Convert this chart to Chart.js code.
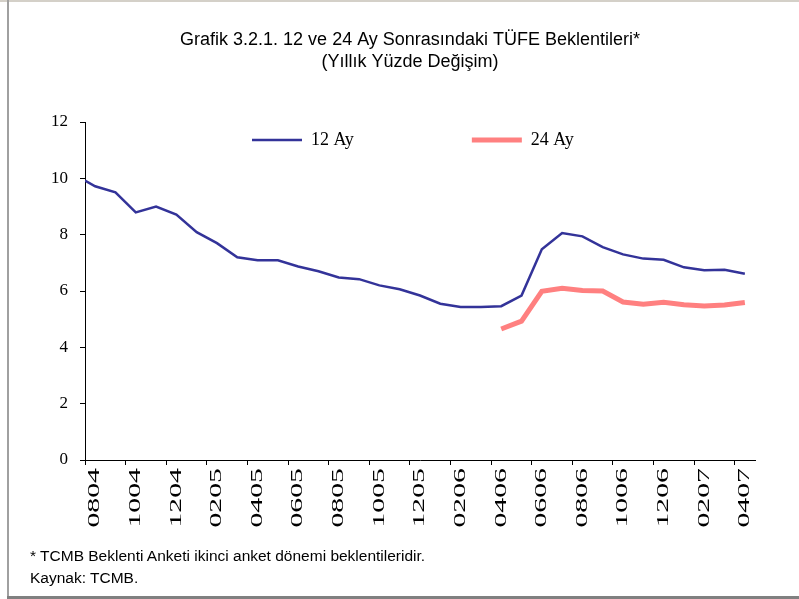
<!DOCTYPE html>
<html lang="tr">

<head>
  <meta charset="UTF-8">
  <title>Grafik 3.2.1</title>
  <script src="https://cdn.jsdelivr.net/npm/chart.js@4.4.0/dist/chart.umd.min.js"></script>
  <style>
    body {
      margin: 0;
      background: white;
    }

    .wrap {
      position: relative;
      width: 799px;
      height: 599px;
      overflow: hidden;
    }

    canvas {
      position: absolute;
      left: 0;
      top: 0;
    }

    .frame_top {
      position: absolute;
      left: 0;
      top: 0;
      width: 799px;
      height: 2px;
      background: #d4d0c8;
    }

    .frame_left {
      position: absolute;
      left: 7px;
      top: 0;
      width: 2px;
      height: 599px;
      background: #a0a0a0;
    }

    .frame_bottom {
      position: absolute;
      left: 7px;
      top: 596px;
      width: 792px;
      height: 3px;
      background: #808080;
    }

    .note {
      position: absolute;
      left: 30px;
      top: 545px;
      font-family: 'Liberation Sans', Arial, sans-serif;
      font-size: 15.5px;
      line-height: 22px;
      color: black;
    }
  </style>
</head>

<body>
  <div class="wrap">
    <canvas id="myChart" width="799" height="599"></canvas>
    <div class="frame_top"></div>
    <div class="frame_left"></div>
    <div class="frame_bottom"></div>
    <div class="note">
      * TCMB Beklenti Anketi ikinci anket dönemi beklentileridir.<br>
      Kaynak: TCMB.
    </div>
  </div>

  <script>
    // aylar (aa/yy), 0804 = Ağustos 2004
    const months = ['0804', '0904', '1004', '1104', '1204', '0105', '0205', '0305', '0405', '0505', '0605',
      '0705', '0805', '0905', '1005', '1105', '1205', '0106', '0206', '0306', '0406', '0506', '0606',
      '0706', '0806', '0906', '1006', '1106', '1206', '0107', '0207', '0307', '0407'];
    const yTicks = [0, 2, 4, 6, 8, 10, 12];
    const series12Name = '12 Ay';
    const series24Name = '24 Ay';
    // 12 ay: the line starts at the axis edge, half a month before 0804
    const ay12Edge = 9.92;
    const ay12 = [9.72, 9.50, 8.79, 9.00, 8.71, 8.09, 7.70, 7.20, 7.09, 7.09, 6.87,
      6.70, 6.48, 6.42, 6.20, 6.06, 5.84, 5.55, 5.43, 5.43, 5.46, 5.84, 7.48,
      8.06, 7.94, 7.56, 7.30, 7.15, 7.11, 6.84, 6.74, 6.75, 6.61];
    const ay24 = [null, null, null, null, null, null, null, null, null, null, null,
      null, null, null, null, null, null, null, null, null, 4.65, 4.93, 5.99,
      6.10, 6.02, 6.00, 5.61, 5.53, 5.60, 5.51, 5.47, 5.50, 5.59];

    const serif = "'Liberation Serif', 'Times New Roman', serif";
    const sans = "'Liberation Sans', Arial, sans-serif";

    function toPoints(arr) {
      let pts = [];
      arr.forEach((v, i) => {
        if (v !== null) pts.push({ x: i, y: v });
      });
      return pts;
    }

    // x labels are drawn long and narrow in the original: stretch them along the text
    const stretchXLabels = {
      id: 'stretchXLabels',
      beforeDraw(chart) {
        const sc = chart.scales.x;
        if (sc.drawLabels.stretched) return;
        const base = sc.drawLabels;
        const fn = function (area) {
          const c = this.ctx;
          const y0 = this.top + this.options.grid.tickLength + this.options.ticks.padding;
          c.save();
          c.translate(0, y0);
          c.scale(1, 1.75);
          c.translate(0, -y0);
          base.call(this, area);
          c.restore();
        };
        fn.stretched = true;
        sc.drawLabels = fn;
      }
    };

    // legend sits inside the plot near the top (chartArea legends lay out as columns),
    // title centred a bit right of the canvas middle
    const placeBoxes = {
      id: 'placeBoxes',
      afterLayout(chart) {
        const lg = chart.legend;
        const area = chart.chartArea;
        const pad = lg.options.labels.padding;
        const itemTop = area.top + 9;
        lg.left = area.left + 167 - pad;
        lg.right = area.right;
        lg.top = itemTop - 10;
        lg.bottom = itemTop + 28;
        chart.titleBlock.left += 25;
      }
    };

    Chart.defaults.color = '#000';

    new Chart(document.getElementById('myChart'), {
      type: 'line',
      data: {
        datasets: [{
          label: series12Name,
          data: [{ x: -0.5, y: ay12Edge }].concat(toPoints(ay12)),
          borderColor: '#333399',
          borderWidth: 2.5,
          pointRadius: 0,
          pointBorderWidth: 2.5,
          pointBorderColor: '#333399',
          tension: 0
        }, {
          label: series24Name,
          data: toPoints(ay24),
          borderColor: '#ff8080',
          borderWidth: 5,
          pointRadius: 0,
          pointBorderWidth: 5,
          pointBorderColor: '#ff8080',
          tension: 0
        }]
      },
      options: {
        responsive: false,
        animation: false,
        layout: {
          padding: { left: 40, right: 44, top: 0, bottom: 54 }
        },
        plugins: {
          title: {
            display: true,
            text: ['Grafik 3.2.1. 12 ve 24 Ay Sonrasındaki TÜFE Beklentileri*', '(Yıllık Yüzde Değişim)'],
            font: { family: sans, size: 18, weight: 'normal', lineHeight: 22 / 18 },
            color: '#000',
            padding: { top: 29, bottom: 49 }
          },
          legend: {
            position: 'chartArea',
            labels: {
              usePointStyle: true,
              pointStyle: 'line',
              pointStyleWidth: 50,
              padding: 118,
              font: { family: serif, size: 18 },
              color: '#000'
            }
          },
          tooltip: { enabled: false }
        },
        scales: {
          x: {
            type: 'linear',
            min: -0.5,
            max: months.length - 0.5,
            afterBuildTicks: (s) => {
              let t = [];
              for (let i = 0; i < months.length; i += 2) t.push({ value: i - 0.5 });
              s.ticks = t;
            },
            afterFit: (s) => { s.height = 85; },
            ticks: {
              autoSkip: false,
              minRotation: 90,
              maxRotation: 90,
              labelOffset: 10,
              padding: 3,
              font: { family: serif, size: 17 },
              color: '#000',
              callback: (v) => months[Math.round(v + 0.5)]
            },
            grid: { drawOnChartArea: false, drawTicks: true, tickLength: 5, color: '#000' },
            border: { display: true, color: '#000', width: 1 }
          },
          y: {
            min: 0,
            max: 12,
            afterBuildTicks: (s) => { s.ticks = yTicks.map(v => ({ value: v })); },
            afterFit: (s) => { s.width = 45; },
            ticks: {
              padding: 12,
              font: { family: serif, size: 17 },
              color: '#000'
            },
            grid: { drawOnChartArea: false, drawTicks: true, tickLength: 5, color: '#000' },
            border: { display: true, color: '#000', width: 1 }
          }
        }
      },
      plugins: [stretchXLabels, placeBoxes]
    });
  </script>
</body>

</html>
